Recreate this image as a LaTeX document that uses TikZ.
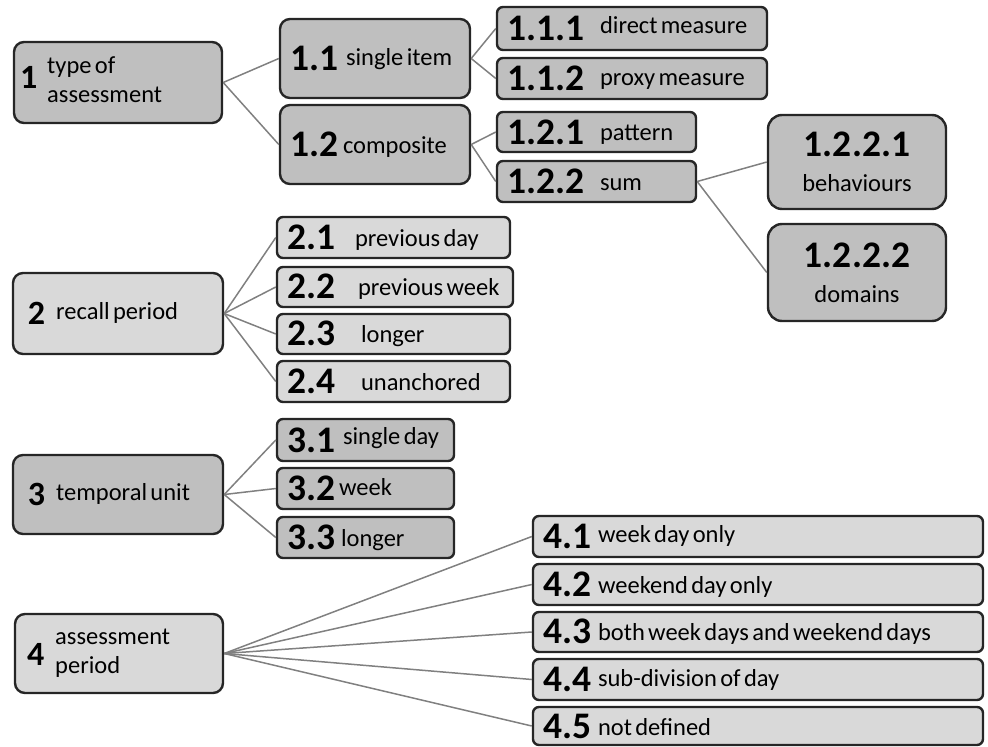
\documentclass[tikz,border=0pt]{standalone}
\usepackage{fontspec}
\setmainfont{Carlito}
\definecolor{dk}{HTML}{BFBFBF}
\definecolor{lt}{HTML}{D9D9D9}
\definecolor{ln}{HTML}{808080}
\newcommand\nm[1]{{\fontsize{37.5}{39}\selectfont\bfseries #1}}
\newcommand\mn[1]{{\fontsize{34}{36}\selectfont\bfseries #1}}
\newcommand\lb[2][0pt]{\raisebox{#1}{\fontsize{24.5}{29}\selectfont #2}}
\newcommand\twol[2]{{\fontsize{24.5}{29}\selectfont\begin{tabular}[c]{@{}l@{}}#1\\#2\end{tabular}}}
\newcommand\bx[7]{%
  \pgfmathsetmacro\bh{#5-#3}\pgfmathsetmacro\tw{#4-#2-20}%
  \node[#6, minimum height=\bh pt, text width=\tw pt] (#1) at ({(#2+#4)/2},{(#3+#5)/2}) {#7};}
\tikzset{
  boxbase/.style={draw=black!85, line width=2.4pt, inner xsep=10pt, inner ysep=0pt, align=left},
  mainbox/.style={boxbase, rounded corners=10pt},
  subbox/.style={boxbase, rounded corners=6pt},
  bigbox/.style={boxbase, rounded corners=14pt, align=center, font=\fontsize{24.5}{35}\selectfont},
  conn/.style={draw=ln, line width=1.5pt},
}
\begin{document}
\begin{tikzpicture}[x=1pt,y=-1pt]
\useasboundingbox (0,0) rectangle (988,747);
% group 1
\bx{n1}{14}{42}{222}{123}{mainbox,fill=dk}{\hspace*{-4pt}\mn{1}\hspace{10pt}\twol{type of}{assessment}}
\bx{n11}{280}{19}{470}{98}{mainbox,fill=dk}{\nm{1.1}\hspace{8pt}\lb[5pt]{single item}}
\bx{n12}{280}{105}{470}{184}{mainbox,fill=dk}{\nm{1.2}\hspace{5pt}\lb[3pt]{composite}}
\bx{n111}{497}{7}{767}{50}{subbox,fill=dk}{\nm{1.1.1}\hspace{16pt}\lb[7pt]{direct measure}}
\bx{n112}{497}{58}{767}{99}{subbox,fill=dk}{\nm{1.1.2}\hspace{16pt}\lb[5pt]{proxy measure}}
\bx{n121}{497}{112}{696}{152}{subbox,fill=dk}{\nm{1.2.1}\hspace{16pt}\lb[4pt]{pattern}}
\bx{n122}{497}{161}{696}{202}{subbox,fill=dk}{\nm{1.2.2}\hspace{16pt}\lb[3pt]{sum}}
\bx{n1221}{768}{115}{946}{209}{bigbox,fill=dk}{\nm{1.2.2.1}\\behaviours}
\bx{n1222}{768}{224}{946}{321}{bigbox,fill=dk}{\nm{1.2.2.2}\\domains}
% group 2
\bx{n2}{13}{273}{223}{354}{mainbox,fill=lt}{\hspace*{5pt}\mn{2}\hspace{11pt}\lb[5pt]{recall period}}
\bx{n21}{277}{217}{510}{258}{subbox,fill=lt}{\nm{2.1}\hspace{20pt}\lb[3pt]{previous day}}
\bx{n22}{277}{267}{513}{307}{subbox,fill=lt}{\nm{2.2}\hspace{23pt}\lb[3pt]{previous week}}
\bx{n23}{277}{314}{510}{354}{subbox,fill=lt}{\nm{2.3}\hspace{26pt}\lb[3pt]{longer}}
\bx{n24}{277}{361}{510}{402}{subbox,fill=lt}{\nm{2.4}\hspace{26pt}\lb[3pt]{unanchored}}
% group 3
\bx{n3}{13}{455}{223}{534}{mainbox,fill=dk}{\hspace*{5pt}\mn{3}\hspace{11pt}\lb[5pt]{temporal unit}}
\bx{n31}{277}{419}{454}{461}{subbox,fill=dk}{\nm{3.1}\hspace{8pt}\lb[8pt]{single day}}
\bx{n32}{277}{468}{454}{509}{subbox,fill=dk}{\nm{3.2}\hspace{4pt}\lb[5pt]{week}}
\bx{n33}{277}{517}{454}{558}{subbox,fill=dk}{\nm{3.3}\hspace{6pt}\lb[3pt]{longer}}
% group 4
\bx{n4}{15}{614}{223}{693}{mainbox,fill=lt}{\hspace*{2pt}\mn{4}\hspace{11pt}\raisebox{6pt}{\twol{assessment}{period}}}
\bx{n41}{533}{516}{983}{557}{subbox,fill=lt}{\nm{4.1}\hspace{7pt}\lb[6pt]{week day only}}
\bx{n42}{533}{564}{983}{605}{subbox,fill=lt}{\nm{4.2}\hspace{7pt}\lb[3pt]{weekend day only}}
\bx{n43}{533}{612}{983}{652}{subbox,fill=lt}{\nm{4.3}\hspace{7pt}\lb[3pt]{both week days and weekend days}}
\bx{n44}{533}{659}{983}{700}{subbox,fill=lt}{\nm{4.4}\hspace{7pt}\lb[5pt]{sub-division of day}}
\bx{n45}{533}{707}{983}{745}{subbox,fill=lt}{\nm{4.5}\hspace{7pt}\lb[3pt]{not defined}}
% connectors
\draw[conn] (n1.east) -- (n11.west);
\draw[conn] (n1.east) -- (n12.west);
\draw[conn] (n11.east) -- (n111.west);
\draw[conn] (n11.east) -- (n112.west);
\draw[conn] (n12.east) -- (n121.west);
\draw[conn] (n12.east) -- (n122.west);
\draw[conn] (n122.east) -- (n1221.west);
\draw[conn] (n122.east) -- (n1222.west);
\foreach \c in {n21,n22,n23,n24} \draw[conn] (n2.east) -- (\c.west);
\foreach \c in {n31,n32,n33} \draw[conn] (n3.east) -- (\c.west);
\foreach \c in {n41,n42,n43,n44,n45} \draw[conn] (n4.east) -- (\c.west);
\end{tikzpicture}
\end{document}
